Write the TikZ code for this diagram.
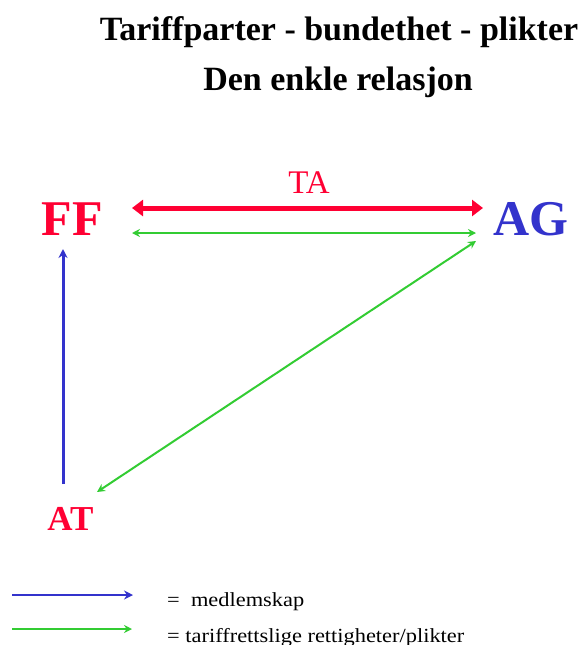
\documentclass[tikz,border=0pt]{standalone}
\usepackage{fontspec}
\setmainfont{Liberation Serif}
\usetikzlibrary{arrows.meta}
\definecolor{partred}{HTML}{FF0033}
\definecolor{partblue}{HTML}{3333CC}
\definecolor{rightgreen}{HTML}{33CC33}

\begin{document}
\begin{tikzpicture}[
  x=1pt, y=-1pt,
  party/.style={font=\fontsize{50}{54}\selectfont\bfseries, inner sep=0pt, anchor=base},
  title/.style={font=\fontsize{34}{38}\selectfont\bfseries, inner sep=0pt, anchor=base},
  legtext/.style={font=\fontsize{20}{24}\selectfont, anchor=base west, inner sep=0pt},
  tarif/.style={{Triangle[length=11pt,width=16pt]}-{Triangle[length=11pt,width=16pt]}, line width=5pt, draw=partred},
  rights/.style={{Stealth[length=8pt,width=8pt]}-{Stealth[length=8pt,width=8pt]}, line width=2pt, draw=rightgreen},
  member/.style={-{Stealth[length=9pt,width=9pt]}, line width=3pt, draw=partblue},
  legright/.style={-{Stealth[length=8pt,width=8pt]}, line width=2pt, draw=rightgreen},
]
\useasboundingbox (0,0) rectangle (579,645);

% ===== title =====
\node[title] (t1) at (339,40) {Tariffparter - bundethet - plikter};
\node[title] (t2) at (338,90) {Den enkle relasjon};

% ===== parties =====
\node[party, text=partred]  (ff) at (72,235) {FF};
\node[party, text=partblue] (ag) at (531,235) {AG};
\node[party, font=\fontsize{35}{38}\selectfont\bfseries, text=partred] (at) at (70.5,530) {AT};
\node[party, font=\fontsize{33}{36}\selectfont, text=partred] (ta) at (309,193) {TA};

% ===== arrow end points =====
\coordinate (ffred)  at (132,208);
\coordinate (agred)  at (483,208);
\coordinate (ffgrn)  at (132,233);
\coordinate (aggrn)  at (476,233);
\coordinate (agdia)  at (476,241);
\coordinate (atdia)  at (97,492);
\coordinate (atup)   at (63,484);
\coordinate (ffdown) at (63,249);

\draw[tarif]  (ffred) -- (agred);
\draw[rights] (ffgrn) -- (aggrn);
\draw[rights] (agdia) -- (atdia);
\draw[member] (atup) -- (ffdown);

% ===== legend =====
\coordinate (lb1) at (12,595);  \coordinate (lb2) at (133,595);
\coordinate (lg1) at (12,629);  \coordinate (lg2) at (132,629);
\draw[member, line width=2.5pt] (lb1) -- (lb2);
\draw[legright] (lg1) -- (lg2);
\node[legtext] (lm) at (167,606) {\scalebox{1.12}[1]{=\ \ medlemskap}};
\node[legtext] (lr) at (167,642) {\scalebox{1.12}[1]{= tariffrettslige rettigheter/plikter}};

\end{tikzpicture}
\end{document}
